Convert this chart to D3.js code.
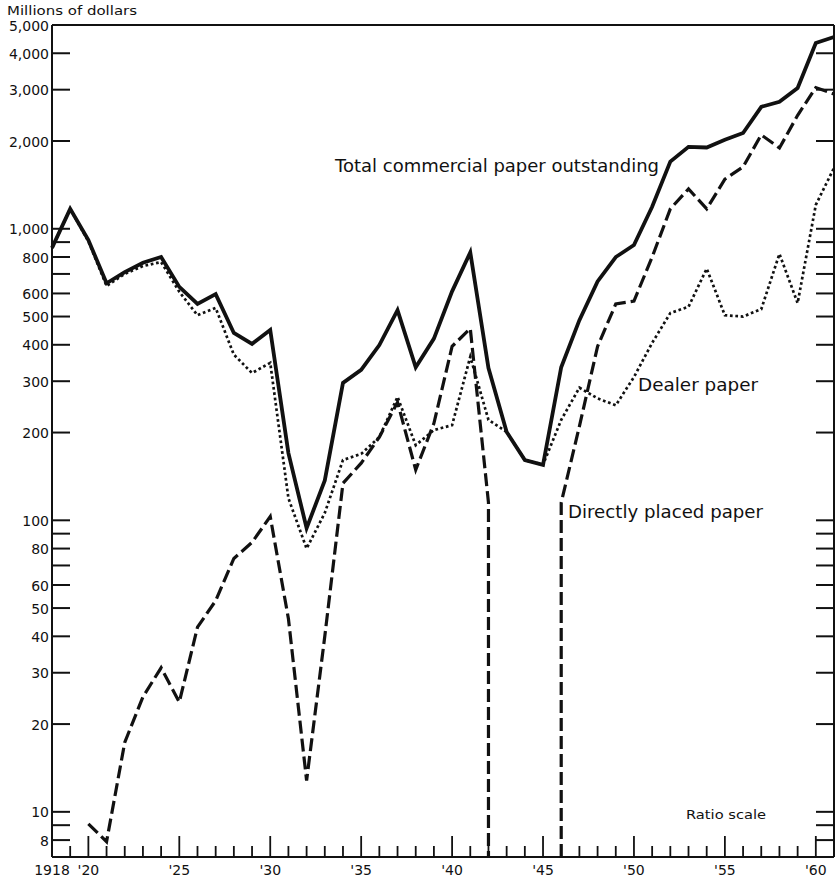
<!DOCTYPE html>
<html><head><meta charset="utf-8">
<script src="https://cdn.jsdelivr.net/npm/d3@7/dist/d3.min.js"></script>
<style>
html,body{margin:0;padding:0;background:#fff;}
svg text{font-family:"DejaVu Sans",sans-serif;fill:#111;}
</style></head>
<body><svg id="c" width="836" height="880"></svg>
<script>
const years = d3.range(1918, 1962);
// Total commercial paper outstanding (millions of dollars)
const totalPaper = [860,1170,915,650,710,765,800,632,552,597,439,403,450,170,94,137,296,328,399,526,
  335,420,610,830,333,201,161,155,335,486,660,800,880,1190,1700,1910,1900,2020,2130,2620,2725,3040,4340,4550];
// Dealer paper
const dealerPaper = [860,1170,905,636,700,745,769,608,505,535,370,320,347,119,80,106,161,169,193,265,
  181,204,212,364,221,201,161,155,221,285,262,248,310,406,514,540,730,505,500,530,820,556,1208,1617];
// Directly placed paper (null = none outstanding)
const directPaper = [null,null,9.1,7.9,17.3,24.8,31.2,23.8,43,53,74,84,103,46,12.8,40,134,157,193,254,
  149,215,395,455,115,null,null,null,115,210,395,552,565,800,1170,1370,1170,1480,1630,2100,1893,2450,3050,2900];

const yTicks = [8,9,10,20,30,40,50,60,70,80,90,100,200,300,400,500,600,700,800,900,1000,2000,3000,4000,5000];
const yLabelled = [8,10,20,30,40,50,60,80,100,200,300,400,500,600,800,1000,2000,3000,4000,5000];
const xMajor = [1920,1925,1930,1935,1940,1945,1950,1955,1960];
const xLabels = [[1918,"1918"],[1920,"'20"],[1925,"'25"],[1930,"'30"],[1935,"'35"],[1940,"'40"],[1945,"'45"],[1950,"'50"],[1955,"'55"],[1960,"'60"]];

const L = 52, R = 834, T = 25, B = 857;
const svg = d3.select("#c");
const x = d3.scaleLinear().domain([1918, 1961]).range([L, R]);
const y = d3.scaleLog().domain([7, 5000]).range([B, T]);
const fmt = d3.format(",");

// frame
const frame = svg.append("g").attr("stroke","#111").attr("stroke-width",2).attr("fill","none");
frame.append("line").attr("x1",L).attr("x2",L).attr("y1",T).attr("y2",B);
frame.append("line").attr("x1",R).attr("x2",R).attr("y1",T).attr("y2",B);
frame.append("line").attr("x1",L).attr("x2",R).attr("y1",T).attr("y2",T);
frame.append("line").attr("x1",L).attr("x2",R).attr("y1",B).attr("y2",B);

// y ticks both sides
const yt = svg.append("g").attr("stroke","#111").attr("stroke-width",2);
yTicks.forEach(v=>{
  yt.append("line").attr("x1",L).attr("x2",L+18).attr("y1",y(v)).attr("y2",y(v));
  yt.append("line").attr("x1",R-18).attr("x2",R).attr("y1",y(v)).attr("y2",y(v));
});
yLabelled.forEach(v=>{
  svg.append("text").attr("x",L-3).attr("y",y(v)).attr("dy","0.4em")
    .attr("text-anchor","end").attr("font-size",14).text(fmt(v));
});

// x ticks
const xt = svg.append("g").attr("stroke","#111").attr("stroke-width",1.8);
years.forEach(yr=>{
  if (yr===1918) return;
  const len = xMajor.includes(yr) ? 21 : 11;
  xt.append("line").attr("x1",x(yr)).attr("x2",x(yr)).attr("y1",B).attr("y2",B-len);
});
xLabels.forEach(([yr,t])=>{
  svg.append("text").attr("x",x(yr)).attr("y",875).attr("text-anchor","middle")
    .attr("font-size",14).text(t);
});

// lines
const line = d3.line().defined(d=>d.v!=null).x(d=>x(d.yr)).y(d=>y(d.v));
const tot = years.map((yr,i)=>({yr, v: totalPaper[i]}));
const dea = years.map((yr,i)=>({yr, v: dealerPaper[i]}));
const dir = years.map((yr,i)=>({yr, v: directPaper[i]}));
// split direct series into runs, dropping to the axis floor where the series stops
const floor = y.domain()[0];
const runs = [];
let cur = null;
dir.forEach((d,i)=>{
  if (d.v==null){ if(cur){ cur.push({yr:cur[cur.length-1].yr, v:floor}); runs.push(cur); cur=null;} return; }
  if(!cur){ cur=[]; if(i>0 && dir[i-1].v==null && dir.slice(0,i).some(e=>e.v!=null)) cur.push({yr:d.yr, v:floor}); }
  cur.push(d);
});
if(cur) runs.push(cur);

svg.append("path").datum(dea).attr("d",line).attr("fill","none").attr("stroke","#111")
  .attr("stroke-width",2.7).attr("stroke-dasharray","2.7,2.7");
runs.forEach(r=>{
  svg.append("path").datum(r).attr("d",line).attr("fill","none").attr("stroke","#111")
    .attr("stroke-width",3.2).attr("stroke-dasharray","13,5");
});
svg.append("path").datum(tot).attr("d",line).attr("fill","none").attr("stroke","#111")
  .attr("stroke-width",3.8).attr("stroke-linejoin","miter");

// text
function lab(t,xx,yy,fs,w){
  svg.append("text").attr("x",xx).attr("y",yy).attr("font-size",fs)
    .attr("textLength",w).attr("lengthAdjust","spacingAndGlyphs").text(t);
}
lab("Millions of dollars",7,14.5,12,130);
lab("Total commercial paper outstanding",335,172,17,324);
lab("Dealer paper",638,391,17,120);
lab("Directly placed paper",568,518,17,195);
lab("Ratio scale",686,819,13,80);
</script></body></html>
